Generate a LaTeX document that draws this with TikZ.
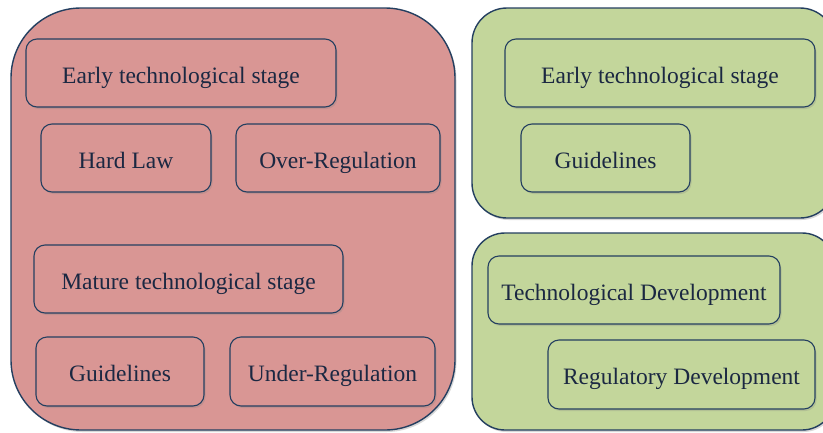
\documentclass[tikz,border=0pt]{standalone}
\usepackage{fontspec}
\setmainfont{Liberation Serif}
\usetikzlibrary{shadows}
\definecolor{redfill}{HTML}{D99694}
\definecolor{greenfill}{HTML}{C3D69B}
\definecolor{edge}{HTML}{243F60}
\definecolor{txt}{HTML}{1B2842}
\tikzset{
  outerbox/.style={draw=edge, line width=1.4pt, rounded corners=#1, inner sep=0pt,
    drop shadow={opacity=0.3, shadow xshift=1.5pt, shadow yshift=-2pt}},
  innerbox/.style={draw=edge, line width=1.1pt, rounded corners=11pt, inner sep=0pt,
    minimum height=68pt, text=txt, font=\fontsize{23.5}{28}\selectfont,
    text height=21pt, text depth=1pt,
    drop shadow={opacity=0.25, shadow xshift=1.5pt, shadow yshift=-2pt}},
}
\begin{document}
\begin{tikzpicture}[x=1pt,y=-1pt]
\path[use as bounding box, clip] (0,0) rectangle (823,432);
\fill[white] (0,0) rectangle (823,432);
% outer containers
\node[outerbox=70pt, fill=redfill, minimum width=444pt, minimum height=422pt] (L) at (233,219) {};
\node[outerbox=35pt, fill=greenfill, minimum width=363pt, minimum height=210pt] (RT) at (653.5,113) {};
\node[outerbox=33pt, fill=greenfill, minimum width=363pt, minimum height=197pt] (RB) at (653.5,331.5) {};
% left inner boxes
\node[innerbox, fill=redfill, minimum width=310pt] (ets1) at (181,73) {Early technological stage};
\node[innerbox, fill=redfill, minimum width=170pt] (hard) at (126,158) {Hard Law};
\node[innerbox, fill=redfill, minimum width=204pt] (over) at (338,158) {Over-Regulation};
\node[innerbox, fill=redfill, minimum width=309pt] (mts) at (188.5,279) {Mature technological stage};
\node[innerbox, fill=redfill, minimum width=168pt, minimum height=69pt] (guide1) at (120,371.5) {Guidelines};
\node[innerbox, fill=redfill, minimum width=205pt, minimum height=69pt] (under) at (332.5,371.5) {Under-Regulation};
% right inner boxes
\node[innerbox, fill=greenfill, minimum width=310pt] (ets2) at (660,73) {Early technological stage};
\node[innerbox, fill=greenfill, minimum width=169pt] (guide2) at (605.5,158) {Guidelines};
\node[innerbox, fill=greenfill, minimum width=292pt] (techdev) at (634,290) {Technological Development};
\node[innerbox, fill=greenfill, minimum width=267pt, minimum height=69pt] (regdev) at (681.5,374.5) {Regulatory Development};
\end{tikzpicture}
\end{document}
